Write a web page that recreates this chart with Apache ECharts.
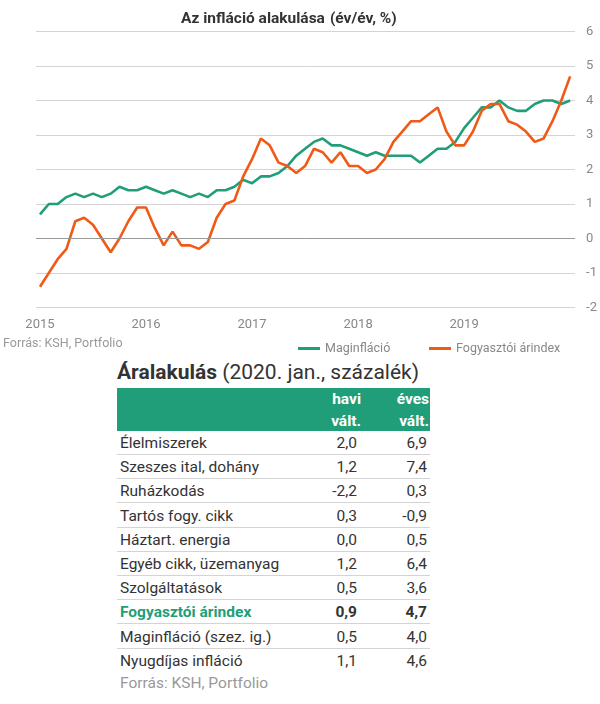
<!DOCTYPE html>
<html><head><meta charset="utf-8">
<script src="https://cdn.jsdelivr.net/npm/echarts@6/dist/echarts.min.js"></script>
<style>
body{margin:0;width:600px;height:704px;overflow:hidden;background:#fff;font-family:Roboto,sans-serif;position:relative;}
#chart{position:absolute;left:0;top:0;width:600px;height:360px;}
.abs{position:absolute;white-space:nowrap;}
#ttl{left:117px;top:360px;font-size:21px;line-height:24px;color:#333;}
#hdr{left:117px;top:388px;width:313px;height:43px;background:#1f9e79;color:#fff;font-weight:bold;font-size:15.5px;}
.hc{position:absolute;top:1px;line-height:21.5px;text-align:right;}
.row{position:absolute;left:117px;width:313px;height:24px;font-size:15.5px;color:#333;line-height:24px;border-bottom:1px solid #d4d4d4;box-sizing:border-box;}
.row .l{position:absolute;left:3px;}
.row .v1{position:absolute;right:73px;}
.row .v2{position:absolute;right:3px;}
#src2{left:120px;top:672px;font-size:15.5px;line-height:22px;color:#999;}
</style></head>
<body>
<div id="chart"></div>
<div id="ttl" class="abs"><b>Áralakulás</b> (2020. jan., százalék)</div>
<div id="hdr" class="abs"><div class="hc" style="right:69px">havi<br>vált.</div><div class="hc" style="right:1px">éves<br>vált.</div></div>
<div id="rows"></div>
<div id="src2" class="abs">Forrás: KSH, Portfolio</div>
<script>
// ---- chart data ----
const yearLabels = ['2015','2016','2017','2018','2019'];
const seriesNames = ['Maginfláció','Fogyasztói árindex'];
const coreInflation = [
  0.7,1.0,1.0,1.2,1.3,1.2,1.3,1.2,1.3,1.5,1.4,1.4,
  1.5,1.4,1.3,1.4,1.3,1.2,1.3,1.2,1.4,1.4,1.5,1.7,
  1.6,1.8,1.8,1.9,2.1,2.4,2.6,2.8,2.9,2.7,2.7,2.6,
  2.5,2.4,2.5,2.4,2.4,2.4,2.4,2.2,2.4,2.6,2.6,2.8,
  3.2,3.5,3.8,3.8,4.0,3.8,3.7,3.7,3.9,4.0,4.0,3.9,
  4.0];
const cpi = [
  -1.4,-1.0,-0.6,-0.3,0.5,0.6,0.4,0.0,-0.4,0.0,0.5,0.9,
  0.9,0.3,-0.2,0.2,-0.2,-0.2,-0.3,-0.1,0.6,1.0,1.1,1.8,
  2.3,2.9,2.7,2.2,2.1,1.9,2.1,2.6,2.5,2.2,2.5,2.1,
  2.1,1.9,2.0,2.3,2.8,3.1,3.4,3.4,3.6,3.8,3.1,2.7,
  2.7,3.1,3.7,3.9,3.9,3.4,3.3,3.1,2.8,2.9,3.4,4.0,
  4.7];
const yTicks = [-2,-1,0,1,2,3,4,5,6];
// ---- table data ----
const rowLabels = ['Élelmiszerek','Szeszes ital, dohány','Ruházkodás','Tartós fogy. cikk','Háztart. energia','Egyéb cikk, üzemanyag','Szolgáltatások','Fogyasztói árindex','Maginfláció (szez. ig.)','Nyugdíjas infláció'];
const monthlyChange = ['2,0','1,2','-2,2','0,3','0,0','1,2','0,5','0,9','0,5','1,1'];
const yearlyChange = ['6,9','7,4','0,3','-0,9','0,5','6,4','3,6','4,7','4,0','4,6'];
const highlightRow = 7;

const GREEN = '#1f9e79', ORANGE = '#f05a17';
const toPts = arr => arr.map((v,i)=>[i,v]);
const legendText = {fontFamily:'Roboto',fontSize:12.5,color:'#888'};

const chart = echarts.init(document.getElementById('chart'), null, {renderer:'canvas'});
chart.setOption({
  animation:false,
  title:{
    text:'{b|Az infláció alakulása} {n|(év/év, %)}',
    left:176, top:5,
    textStyle:{rich:{
      b:{fontFamily:'Roboto',fontSize:15.5,fontWeight:'bold',color:'#333'},
      n:{fontFamily:'Roboto',fontSize:15.5,color:'#333'}
    }}
  },
  grid:{left:36,right:24,top:31.5,height:276,containLabel:false},
  legend:[
    {data:[seriesNames[0]], left:293, top:337, icon:'rect', itemWidth:22, itemHeight:3, textStyle:legendText},
    {data:[seriesNames[1]], left:424, top:337, icon:'rect', itemWidth:22, itemHeight:3, textStyle:legendText}
  ],
  graphic:[{type:'text',left:3,top:337,style:{text:'Forrás: KSH, Portfolio',fontFamily:'Roboto',fontSize:12.5,fill:'#999'}}],
  xAxis:{
    type:'value', min:-0.45, max:60.56,
    splitLine:{show:false}, axisLine:{show:false}, axisTick:{show:false},
    axisLabel:{customValues:yearLabels.map((y,i)=>i*12), formatter:v=>yearLabels[Math.round(v/12)],
      color:'#888', fontFamily:'Roboto', fontSize:13, margin:11}
  },
  yAxis:{
    type:'value', position:'right', min:yTicks[0], max:yTicks[yTicks.length-1], interval:1,
    axisLine:{show:false}, axisTick:{show:false},
    splitLine:{lineStyle:{color:'#d4d4d4',width:1}},
    axisLabel:{color:'#888', fontFamily:'Roboto', fontSize:13, margin:11}
  },
  series:[
    {name:seriesNames[0], type:'line', data:toPts(coreInflation), showSymbol:false, symbol:'none',
     lineStyle:{color:GREEN,width:2.6}, itemStyle:{color:GREEN},
     markLine:{silent:true, symbol:'none', label:{show:false}, data:[{yAxis:0}], lineStyle:{color:'#999',type:'solid',width:1}}},
    {name:seriesNames[1], type:'line', data:toPts(cpi), showSymbol:false, symbol:'none',
     lineStyle:{color:ORANGE,width:2.6}, itemStyle:{color:ORANGE}}
  ]
});

// table rows
const rowsEl = document.getElementById('rows');
rowLabels.forEach((lab,i)=>{
  const d = document.createElement('div');
  d.className='row';
  d.style.top = (431 + i*24.2) + 'px';
  if(i===rowLabels.length-1) d.style.borderBottom='none';
  const hl = i===highlightRow;
  d.innerHTML = `<span class="l" style="${hl?'color:'+GREEN+';font-weight:bold':''}">${lab}</span>`+
    `<span class="v1" style="${hl?'font-weight:bold':''}">${monthlyChange[i]}</span>`+
    `<span class="v2" style="${hl?'font-weight:bold':''}">${yearlyChange[i]}</span>`;
  rowsEl.appendChild(d);
});
</script>
</body></html>
